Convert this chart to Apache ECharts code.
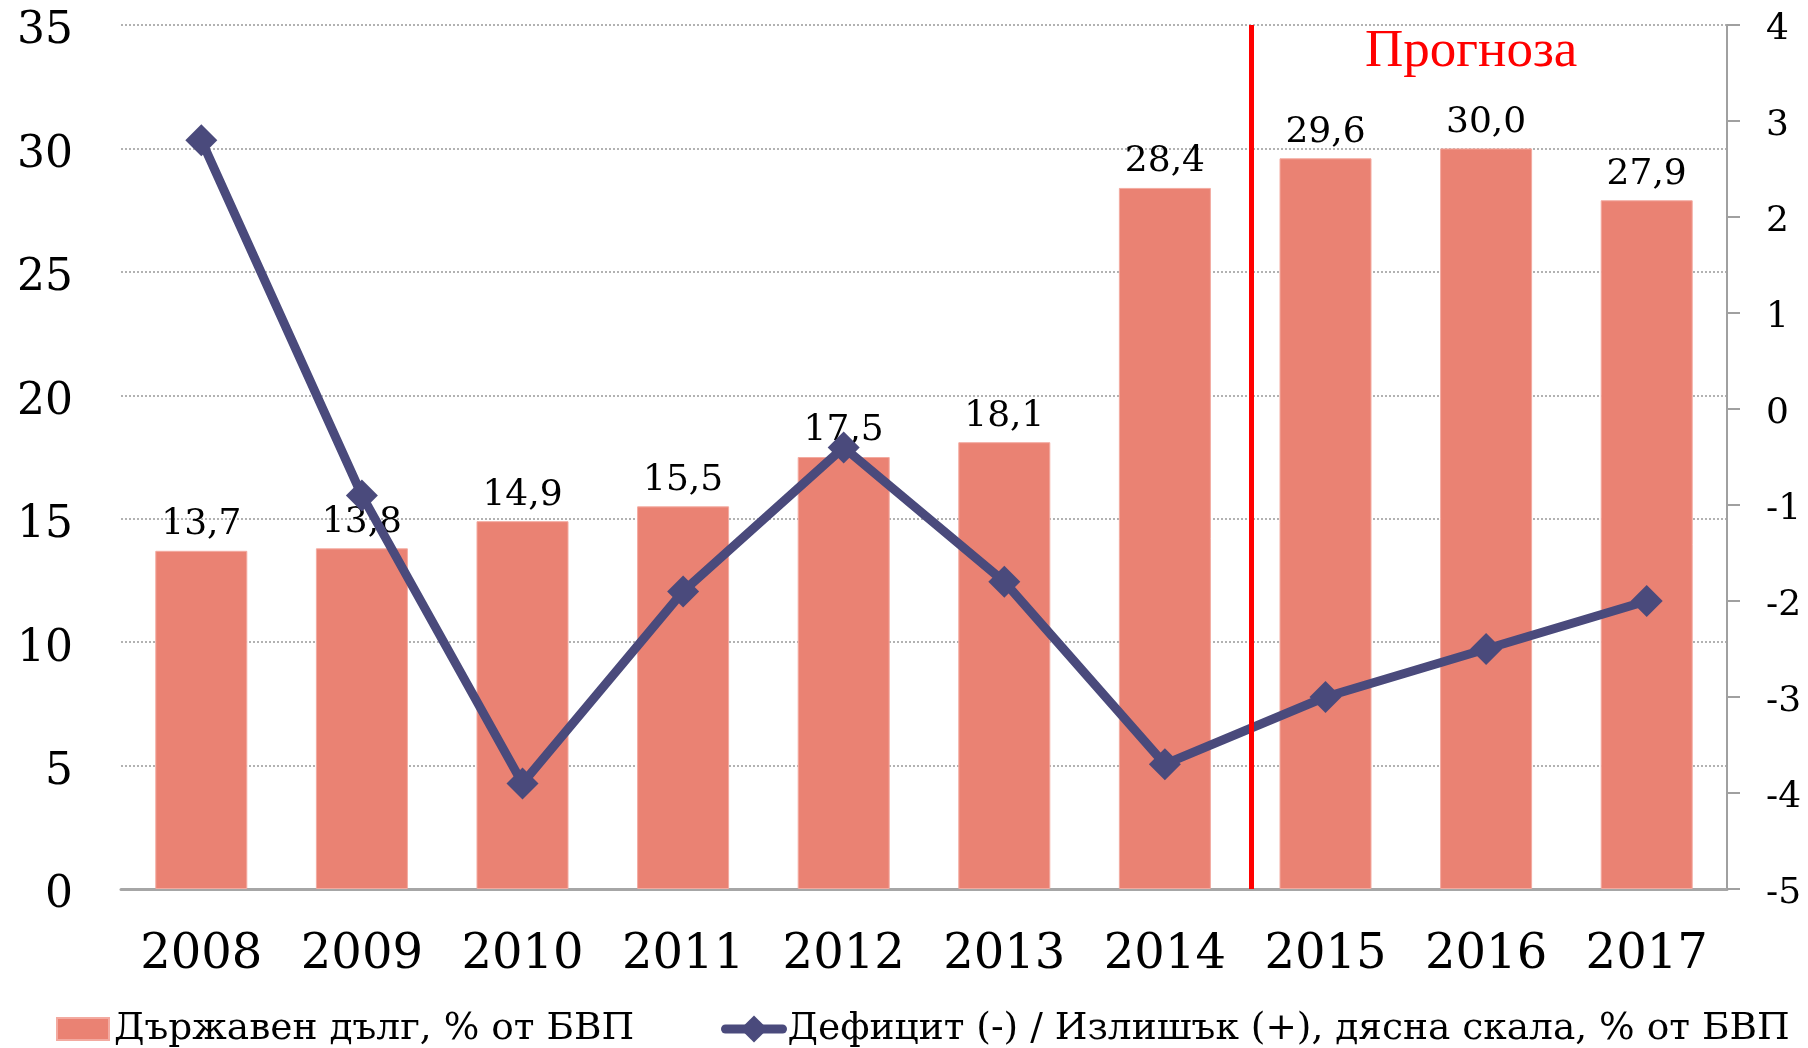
<!DOCTYPE html>
<html>
<head>
<meta charset="utf-8">
<script src="https://cdn.jsdelivr.net/npm/echarts@6/dist/echarts.min.js"></script>
<style>
  html, body { margin: 0; padding: 0; background: #fff; }
  #chart { width: 1808px; height: 1048px; }
</style>
</head>
<body>
<div id="chart"></div>
<script>
const years = ['2008', '2009', '2010', '2011', '2012', '2013', '2014', '2015', '2016', '2017'];
const debt = [13.7, 13.8, 14.9, 15.5, 17.5, 18.1, 28.4, 29.6, 30.0, 27.9];
const balance = [2.8, -0.9, -3.9, -1.9, -0.4, -1.8, -3.7, -3.0, -2.5, -2.0];
const debtName = 'Държавен дълг, % от БВП';
const balanceName = 'Дефицит (-) / Излишък (+), дясна скала, % от БВП';
const forecastLabel = 'Прогноза';
// forecast divider, on a hidden 0..10 axis laid over the categories
const forecastX = 7.04;

const serif = 'DejaVu Serif';
const lineColor = '#4a4a7c';

const myChart = echarts.init(document.getElementById('chart'));

const option = {
  animation: false,
  backgroundColor: '#fff',
  title: {
    text: forecastLabel,
    left: 1365,
    top: 26,
    padding: 0,
    textStyle: {
      color: '#ff0000',
      fontFamily: 'Liberation Serif',
      fontWeight: 'normal',
      fontSize: 53,
    },
  },
  legend: [
    {
      data: [debtName],
      left: 56,
      top: 1010,
      padding: 0,
      icon: 'rect',
      itemWidth: 52,
      itemHeight: 22,
      textStyle: { fontFamily: serif, fontSize: 37.5, color: '#000' },
    },
    {
      data: [balanceName],
      left: 721,
      top: 1010,
      padding: 0,
      itemWidth: 57,
      itemHeight: 34,
      lineStyle: { width: 9, cap: 'round' },
      textStyle: { fontFamily: serif, fontSize: 37.5, color: '#000' },
    },
  ],
  grid: {
    left: 121,
    right: 81,
    top: 25,
    bottom: 159,
  },
  xAxis: [
    {
      type: 'category',
      data: years,
      axisLine: { show: true, lineStyle: { color: '#a6a6a6', width: 3 } },
      axisTick: { show: false },
      axisLabel: { fontFamily: serif, fontSize: 48, color: '#000', margin: 43 },
    },
    {
      type: 'value',
      min: 0,
      max: 10,
      show: false,
    },
  ],
  yAxis: [
    {
      type: 'value',
      min: 0,
      max: 35,
      interval: 5,
      axisLine: { show: false },
      axisTick: { show: false },
      axisLabel: {
        fontFamily: serif,
        fontSize: 44,
        color: '#000',
        margin: 48,
        verticalAlign: 'top',
        lineHeight: 14,
      },
      splitLine: {
        show: true,
        lineStyle: { color: '#999', width: 1.5, type: [2, 2] },
      },
    },
    {
      type: 'value',
      position: 'right',
      min: -5,
      max: 4,
      interval: 1,
      axisLine: { show: true, lineStyle: { color: '#a0a0a0', width: 2 } },
      axisTick: { show: true, length: 13, lineStyle: { color: '#a0a0a0', width: 2 } },
      axisLabel: {
        fontFamily: serif,
        fontSize: 36,
        color: '#000',
        margin: 39,
        verticalAlign: 'top',
        lineHeight: 10,
      },
      splitLine: { show: false },
    },
  ],
  series: [
    {
      name: debtName,
      type: 'bar',
      data: debt,
      barWidth: 92,
      itemStyle: { color: '#ea8273', borderColor: '#f3aaa0', borderWidth: 1 },
      label: {
        show: true,
        position: 'top',
        distance: 8,
        fontFamily: serif,
        fontSize: 36,
        color: '#000',
        formatter: (params) => params.value.toFixed(1).replace('.', ','),
      },
      z: 2,
    },
    {
      name: balanceName,
      type: 'line',
      yAxisIndex: 1,
      data: balance,
      symbol: 'diamond',
      symbolSize: 32,
      color: lineColor,
      lineStyle: { width: 9, color: lineColor },
      itemStyle: { color: lineColor },
      z: 3,
    },
    {
      name: 'forecast',
      type: 'line',
      xAxisIndex: 1,
      data: [],
      z: 5,
      markLine: {
        silent: true,
        symbol: 'none',
        label: { show: false },
        lineStyle: { color: '#ff0000', width: 5, type: 'solid' },
        data: [{ xAxis: forecastX }],
      },
    },
  ],
};

myChart.setOption(option);
</script>
</body>
</html>
